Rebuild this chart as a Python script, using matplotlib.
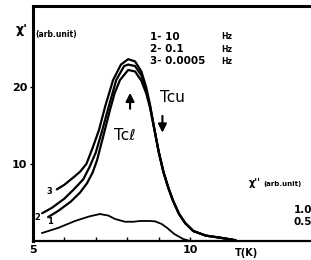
import numpy as np
import matplotlib
matplotlib.use("Agg")
import matplotlib.pyplot as plt

# chi' curves (arb. units) vs temperature T (K)
t_curve3 = [5.76, 6.0, 6.3, 6.5, 6.7, 6.9, 7.1, 7.3, 7.55, 7.8, 8.03, 8.25, 8.45, 8.6, 8.72]
chi_curve3 = [6.7, 7.3, 8.3, 9.0, 10.0, 12.1, 14.4, 17.5, 20.9, 22.9, 23.6, 23.3, 22.0, 20.0, 17.8]

t_curve2 = [5.29, 5.6, 6.0, 6.3, 6.6, 6.8, 7.0, 7.2, 7.4, 7.65, 7.9, 8.03, 8.25, 8.45, 8.6, 8.72]
chi_curve2 = [3.6, 4.3, 5.5, 6.7, 8.0, 9.6, 11.5, 14.3, 17.3, 20.9, 22.7, 22.9, 22.7, 21.5, 19.6, 17.6]

t_curve1 = [5.48, 5.8, 6.2, 6.5, 6.72, 6.9, 7.04, 7.23, 7.45, 7.6, 7.77, 8.03, 8.25, 8.45, 8.6, 8.72]
chi_curve1 = [3.1, 3.9, 5.1, 6.3, 7.5, 8.9, 10.5, 13.5, 17.0, 19.2, 20.9, 22.2, 22.0, 20.8, 19.2, 17.4]

# common high temperature tail (curves merge above ~8.8 K)
t_tail = [8.85, 9.0, 9.15, 9.3, 9.45, 9.65, 9.85, 10.1, 10.5, 11.0, 11.45]
chi_tail = [14.8, 11.6, 9.0, 7.0, 5.3, 3.5, 2.3, 1.3, 0.7, 0.4, 0.1]

# chi'' (drawn on the chi' scale)
t_chi2 = [5.29, 5.8, 6.34, 6.8, 7.13, 7.4, 7.61, 7.93, 8.2, 8.41, 8.7, 8.89, 9.1, 9.27, 9.5, 9.78, 10.0]
chi2 = [1.04, 1.7, 2.6, 3.2, 3.5, 3.3, 2.86, 2.5, 2.5, 2.6, 2.6, 2.55, 2.2, 1.7, 0.9, 0.26, 0.0]

legend_lines = ["1- 10", "2- 0.1", "3- 0.0005"]

W, H = 311, 260
fig = plt.figure(figsize=(W / 100, H / 100), dpi=100)
ax = fig.add_axes([33 / W, 19 / H, 1 - 33 / W, (241 - 6) / H])

def px(x, y):
    # figure pixel (from top-left) -> figure fraction
    return x / W, 1 - y / H

for t, c in [(t_curve3, chi_curve3), (t_curve2, chi_curve2), (t_curve1, chi_curve1)]:
    ax.plot(t + t_tail, c + chi_tail, color="black", lw=1.6, solid_joinstyle="round",
            solid_capstyle="round")
ax.plot(t_chi2, chi2, color="black", lw=1.3, solid_joinstyle="round")

ax.set_xlim(5, 13.85)
ax.set_ylim(0, 30.5)
ax.spines["right"].set_visible(False)
ax.spines["left"].set_linewidth(2.2)
ax.spines["top"].set_linewidth(2.2)
ax.spines["bottom"].set_linewidth(1.6)

ax.set_xticks([5, 6, 7, 8, 9, 10])
ax.set_xticklabels(["5", "", "", "", "", "10"])
ax.set_yticks([10, 20])
ax.set_yticklabels(["10", "20"])
ax.tick_params(axis="x", direction="in", length=3, width=1, pad=3)
ax.tick_params(axis="y", direction="out", length=2, width=1, pad=2)
for lab in ax.get_xticklabels() + ax.get_yticklabels():
    lab.set_fontweight("bold")
    lab.set_fontsize(8)

# axis labels
fig.text(*px(16, 30), "χ'", fontsize=9, fontweight="bold", va="center")
fig.text(*px(35, 34), "(arb.unit)", fontsize=5.5, fontweight="bold", va="center")
fig.text(*px(235, 253), "T(K)", fontsize=7, fontweight="bold", va="center")

# frequency list
for i, s in enumerate(legend_lines):
    y = 37 + 12 * i
    fig.text(*px(150, y), s, fontsize=7.5, fontweight="bold", va="center")
    fig.text(*px(221, y), "Hz", fontsize=5.5, fontweight="bold", va="center")

# curve numbers
fig.text(*px(46, 191), "3", fontsize=6, fontweight="bold", va="center")
fig.text(*px(34, 218), "2", fontsize=6, fontweight="bold", va="center")
fig.text(*px(47, 221), "1", fontsize=6, fontweight="bold", va="center")

# chi'' scale (cut off at the right edge)
fig.text(*px(249, 183), "χ''", fontsize=7, fontweight="bold", va="center")
fig.text(*px(263, 184), "(arb.unit)", fontsize=5, fontweight="bold", va="center")
fig.text(*px(294, 210), "1.0", fontsize=7.5, fontweight="bold", va="center")
fig.text(*px(294, 222), "0.5", fontsize=7.5, fontweight="bold", va="center")

# Tc markers
ax.annotate("", xy=(8.09, 19.6), xytext=(8.09, 16.8),
            arrowprops=dict(arrowstyle="-|>,head_width=0.25,head_length=0.5", color="black", lw=1.5))
ax.annotate("", xy=(9.12, 13.7), xytext=(9.12, 16.6),
            arrowprops=dict(arrowstyle="-|>,head_width=0.25,head_length=0.5", color="black", lw=1.5))
fig.text(*px(114, 135), "Tcℓ", fontsize=11, va="center")
fig.text(*px(160, 97), "Tcu", fontsize=11, va="center")

fig.savefig("out.png", dpi=100)
